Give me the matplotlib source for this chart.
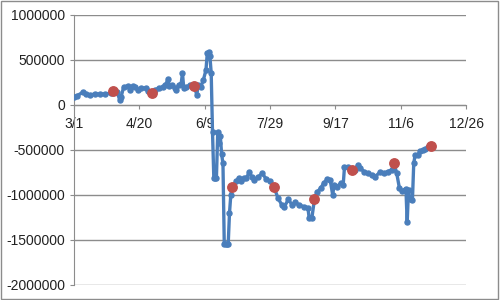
import matplotlib
matplotlib.use("Agg")
import matplotlib.pyplot as plt

# day offset from 3/1 and balance value
days = [0, 2, 7, 9, 12, 16, 20, 24, 28, 30, 33, 35, 36, 38, 41, 43, 45, 47, 49, 51,
        55, 57, 60, 62, 65, 68, 70, 72, 73, 75, 77, 78, 80, 82, 83, 84, 86, 89, 92, 94,
        95, 97, 99, 101, 102, 103, 104, 105, 106, 107, 108, 109, 110, 111, 112, 113, 114, 115, 116, 117,
        118, 119, 120, 121, 124, 126, 128, 130, 132, 134, 136, 138, 141, 144, 147, 150, 153, 156, 159, 161,
        164, 167, 169, 172, 176, 179, 180, 182, 184, 186, 189, 191, 194, 196, 198, 199, 201, 204, 206, 207,
        210, 213, 215, 217, 219, 222, 225, 228, 230, 234, 237, 240, 243, 245, 247, 249, 251, 253, 254, 255,
        256, 257, 259, 260, 261, 263, 265, 267, 269, 271, 273]
values = [89000, 100000, 144000, 122000, 111000, 122000, 122000, 122000, 133000, 156000,
          144000, 56000, 89000, 200000, 211000, 167000, 211000, 200000, 167000, 189000,
          189000, 156000, 133000, 167000, 189000, 200000, 222000, 289000, 211000, 222000,
          189000, 167000, 222000, 233000, 356000, 189000, 200000, 222000, 211000, 111000,
          222000, 200000, 278000, 389000, 578000, 589000, 544000, 356000, -300000, -810000,
          -810000, -810000, -300000, -420000, -350000, -550000, -650000, -1550000, -1550000, -1550000,
          -1550000, -1200000, -1000000, -911000, -850000, -810000, -840000, -810000, -810000, -750000,
          -800000, -830000, -800000, -760000, -820000, -850000, -910000, -1030000, -1110000, -1130000,
          -1050000, -1110000, -1080000, -1110000, -1130000, -1140000, -1260000, -1260000, -1050000, -970000,
          -920000, -870000, -820000, -830000, -1000000, -890000, -910000, -870000, -890000, -690000,
          -690000, -720000, -720000, -670000, -700000, -740000, -760000, -780000, -800000, -750000,
          -760000, -740000, -720000, -650000, -760000, -920000, -960000, -940000, -930000, -1300000,
          -940000, -1050000, -1060000, -650000, -560000, -560000, -510000, -500000, -490000, -470000,
          -460000]

# month-end checkpoints shown in red
red_days = [30, 60, 92, 121, 153, 184, 213, 245, 273]

tick_days = [0, 50, 100, 150, 200, 250, 300]
tick_labels = ["3/1", "4/20", "6/9", "7/29", "9/17", "11/6", "12/26"]
y_ticks = [-2000000, -1500000, -1000000, -500000, 0, 500000, 1000000]

plt.rcParams['font.family'] = ['Liberation Sans', 'DejaVu Sans']

fig = plt.figure(figsize=(5, 3), dpi=100)
ax = fig.add_axes([0.148, 0.05, 0.784, 0.90])

lookup = dict(zip(days, values))
red_vals = [lookup[d] for d in red_days]

ax.plot(days, values, color='#4a7ebb', lw=2.4, marker='o', ms=3.6, zorder=3)
ax.plot(red_days, red_vals, 'o', color='#c0504d', ms=6.8, zorder=4)

ax.set_xlim(0, 300)
ax.set_ylim(-2000000, 1000000)
ax.set_xticks(tick_days)
ax.set_xticklabels(tick_labels)
ax.set_yticks(y_ticks)
ax.set_yticklabels([str(v) for v in y_ticks])

ax.grid(axis='y', color='#8c8c8c', lw=1.0)
ax.set_axisbelow(True)
for s in ['top', 'right']:
    ax.spines[s].set_visible(False)
ax.spines['bottom'].set_position(('data', 0))
ax.spines['bottom'].set_color('#8c8c8c')
ax.spines['left'].set_color('#8c8c8c')
ax.tick_params(axis='both', colors='#8c8c8c', length=3, labelsize=10,
               labelcolor='#222222')
ax.tick_params(axis='x', pad=6)

fig.patches.append(plt.Rectangle((0.002, 0.003), 0.994, 0.993, transform=fig.transFigure,
                                 fill=False, edgecolor='#8c8c8c', lw=1.0))

fig.savefig("out.png", dpi=100)
